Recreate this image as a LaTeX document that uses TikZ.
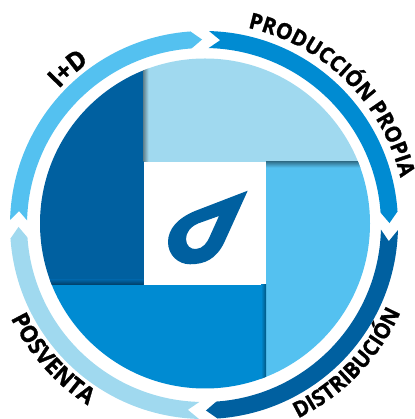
\documentclass[tikz,border=0pt]{standalone}
\usepackage{fontspec}
\setmainfont{Open Sans}[BoldFeatures={FakeStretch=0.95,FakeBold=1.2}]
\usetikzlibrary{decorations.text}
\definecolor{cPale}{HTML}{A0D9EF}
\definecolor{cSky}{HTML}{54C1F0}
\definecolor{cMid}{HTML}{008BD2}
\definecolor{cDark}{HTML}{0060A0}
\tikzset{
  lab/.style n args={2}{decorate,decoration={text along path,text align=center,raise=0pt,
     text={|\fontsize{#1}{#1}\selectfont\bfseries|#2}}}
}
% #1 colour, #2 tail angle, #3 notch angle, #4 shoulder angle, #5 tip angle
\newcommand{\ringseg}[5]{%
  \fill[#1] ([shift={(#2:194)}]204,194) arc[start angle=#2,end angle=#4,radius=194]
     -- ([shift={(#5:185.5)}]204,194)
     -- ([shift={(#4:177)}]204,194) arc[start angle=#4,end angle=#2,radius=177]
     -- ([shift={(#3:185.5)}]204,194) -- cycle;}
\begin{document}
\begin{tikzpicture}[x=1pt,y=1pt]
\useasboundingbox (0,0) rectangle (414,419);
% ring arrows
\ringseg{cSky}{178.5}{175.7}{94}{90.6}
\ringseg{cMid}{88.5}{85}{4}{0.6}
\ringseg{cDark}{-1.5}{-5}{-86}{-89.4}
\ringseg{cPale}{-91.5}{-95}{-176}{-179.4}
% central disc
\begin{scope}
  \clip (205,195.5) circle[radius=165];
  \fill[cPale] (143.5,257) rectangle (380,370);
  \fill[cSky] (266,257) rectangle (380,20);
  \fill[cMid] (30,134) rectangle (266,20);
  \fill[cDark] (30,134) rectangle (143.5,370);
  \shade[left color=black!38!cPale,right color=cPale] (143.5,257) rectangle (148.5,370);
  \shade[top color=black!38!cSky,bottom color=cSky] (266,257) rectangle (380,251.5);
  \shade[right color=black!38!cMid,left color=cMid] (261,134) rectangle (266,20);
  \shade[bottom color=black!38!cDark,top color=cDark] (30,134) rectangle (143.5,139);
\end{scope}
% drop
\fill[cDark,even odd rule]
  (247.7,228.3) -- (195,208)
  .. controls (178,201) and (168,190) .. (168,177)
  .. controls (168,164) and (178,154.7) .. (190,154.7)
  .. controls (205,154.7) and (216,160) .. (224,176) -- cycle
  (219,203) -- (198,195.5)
  .. controls (190,192) and (186,186) .. (186,180)
  .. controls (186,173) and (191,169.5) .. (196,170)
  .. controls (203,170.5) and (207,176) .. (210,183) -- cycle;
% labels
\path[lab={22}{PRODUCCIÓN PROPIA}] ([shift={(85.5:202)}]204,194) arc[start angle=85.5,end angle=5.5,radius=202];
\path[lab={26}{I+D}] ([shift={(146:199)}]204,194) arc[start angle=146,end angle=116,radius=199];
\path[lab={22}{DISTRIBUCIÓN}] ([shift={(-79:215)}]204,194) arc[start angle=-79,end angle=-9,radius=215];
\path[lab={23.5}{POSVENTA}] ([shift={(-173.5:214.5)}]204,194) arc[start angle=-173.5,end angle=-103.5,radius=214.5];
\end{tikzpicture}
\end{document}
